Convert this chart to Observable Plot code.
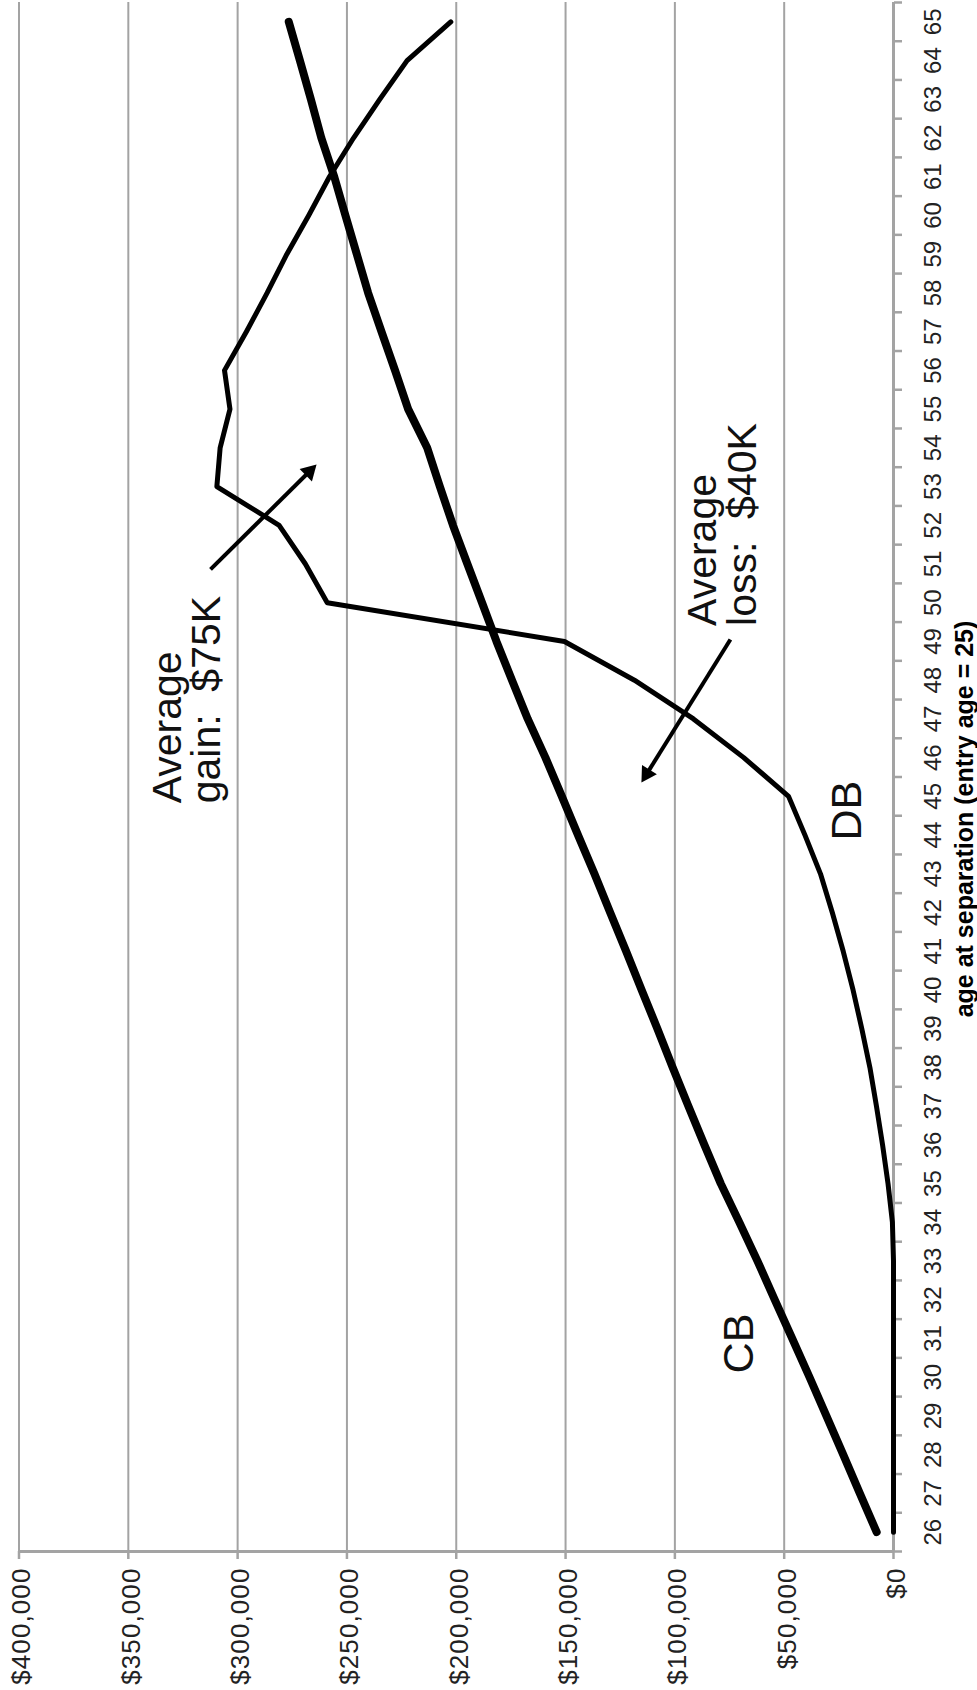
<!DOCTYPE html>
<html><head><meta charset="utf-8">
<script src="https://cdn.jsdelivr.net/npm/d3@7"></script>
<script src="https://cdn.jsdelivr.net/npm/@observablehq/plot@0.6"></script>
<style>html,body{margin:0;padding:0;background:#fff;} svg{display:block}</style>
</head><body><div id="chart"></div>
<script>
// ---- data ----
const ages = [26,27,28,29,30,31,32,33,34,35,36,37,38,39,40,41,42,43,44,45,
              46,47,48,49,50,51,52,53,54,55,56,57,58,59,60,61,62,63,64,65];
const cbValues = [7700,15400,23000,30700,38400,46300,54300,62200,70500,79000,
                  86500,93800,101000,108000,115200,122300,129600,136800,144300,151700,
                  159200,167300,174500,181600,188200,194900,201500,207500,213300,222000,
                  228000,234200,240300,245500,250700,255800,261700,266500,271500,276600];
const dbValues = [0,0,0,0,0,0,0,0,500,2500,
                  5000,7800,10800,14500,18500,23000,28000,33400,40500,48000,
                  68500,91500,118500,150500,259000,269000,281000,309500,308000,303500,
                  306000,296000,286500,277500,267500,258000,247000,235000,222500,202500];
const dollarTicks = [0,50000,100000,150000,200000,250000,300000,350000,400000];
const axisTitle = "age at separation (entry age = 25)";
const notes = [
  {text: "Average", x: 325700, y: 44.82},
  {text: "gain:\u00a0\u00a0$75K", x: 307900, y: 44.82},
  {text: "Average", x: 81000, y: 49.40},
  {text: "loss:\u00a0\u00a0$40K", x: 63000, y: 49.40}
];
const seriesLabels = [
  {text: "CB", x: 70400, y: 30.87},
  {text: "DB", x: 21000, y: 44.63}
];
const arrows = [
  {x1: 312400, y1: 50.86, x2: 263900, y2: 53.57},
  {x1: 74600, y1: 49.05, x2: 115300, y2: 45.36}
];

// ---- layout ----
const W = 977, H = 1690, mL = 18.5, mR = 84, mT = 2, mB = 139;
const gray = "#a3a3a3";
const sans = "'Liberation Sans', Arial, Helvetica, sans-serif";
const narrow = "'Liberation Sans Narrow', 'Arial Narrow', 'Liberation Sans', Arial, sans-serif";

const cb = ages.map((a, i) => ({age: a, value: cbValues[i]}));
const db = ages.map((a, i) => ({age: a, value: dbValues[i]}));
const ageBounds = ages.map(a => a - 0.5).concat([ages[ages.length - 1] + 0.5]);

// arrowhead geometry (computed in screen space with the same scales Plot uses)
const xs = d3.scaleLinear([0, 400000], [W - mR, mL]);
const ys = d3.scaleLinear([ageBounds[0], ageBounds[ageBounds.length - 1]], [H - mB, mT]);
const headR = 6.5;
const tipDist = 2 * Math.sqrt(Math.PI * headR * headR / (3 * Math.sqrt(3)));
const heads = arrows.map(a => {
  const p1 = [xs(a.x1), ys(a.y1)], p2 = [xs(a.x2), ys(a.y2)];
  const L = Math.hypot(p2[0] - p1[0], p2[1] - p1[1]);
  const ux = (p2[0] - p1[0]) / L, uy = (p2[1] - p1[1]) / L;
  return {
    x1: a.x1, y1: a.y1,
    bx: xs.invert(p2[0] - ux * tipDist * 1.2), by: ys.invert(p2[1] - uy * tipDist * 1.2),
    cx: xs.invert(p2[0] - ux * tipDist), cy: ys.invert(p2[1] - uy * tipDist),
    angle: Math.atan2(ux, -uy) * 180 / Math.PI
  };
});

const chart = Plot.plot({
  width: W, height: H,
  marginLeft: mL, marginRight: mR, marginTop: mT, marginBottom: mB,
  x: {domain: [0, 400000], reverse: true},
  y: {domain: [ageBounds[0], ageBounds[ageBounds.length - 1]]},
  style: {background: "#fff"},
  marks: [
    Plot.ruleX(dollarTicks.filter(d => d > 0), {stroke: gray, strokeWidth: 2}),
    Plot.axisX({anchor: "bottom", ticks: dollarTicks, tickSize: 8, tickFormat: () => "", stroke: gray, strokeWidth: 2.5, label: null}),
    Plot.axisY({anchor: "right", ticks: ageBounds, tickSize: 8, tickFormat: () => "", stroke: gray, strokeWidth: 2.5, label: null}),
    Plot.ruleY([ageBounds[0]], {stroke: gray, strokeWidth: 3}),
    Plot.ruleX([0], {stroke: gray, strokeWidth: 3}),
    Plot.text(dollarTicks, {x: d => d, y: () => ageBounds[0], text: d => d3.format("$,")(d),
      rotate: -90, textAnchor: "end", lineAnchor: "middle", dy: 16, dx: 3,
      fontSize: 26, fontFamily: sans, fill: "#222"}),
    Plot.text(ages, {x: () => 0, y: d => d, text: d => String(d),
      rotate: -90, textAnchor: "middle", lineAnchor: "middle", dx: 40,
      fontSize: 24, fontFamily: narrow, fill: "#222"}),
    Plot.text([axisTitle], {frameAnchor: "right", text: d => d, rotate: -90,
      textAnchor: "middle", lineAnchor: "middle", dx: 71, dy: 42,
      fontSize: 25, fontWeight: "bold", fontFamily: sans, fill: "#000"}),
    Plot.line(db, {x: "value", y: "age", stroke: "#000", strokeWidth: 5, strokeLinejoin: "round", strokeLinecap: "round"}),
    Plot.line(cb, {x: "value", y: "age", stroke: "#000", strokeWidth: 8, strokeLinejoin: "round", strokeLinecap: "round"}),
    Plot.text(notes, {x: "x", y: "y", text: "text", rotate: -90, textAnchor: "start", lineAnchor: "bottom",
      fontSize: 41, fontFamily: sans, fill: "#111"}),
    Plot.text(seriesLabels, {x: "x", y: "y", text: "text", rotate: -90, textAnchor: "middle", lineAnchor: "middle",
      fontSize: 43, fontFamily: sans, fill: "#111"}),
    Plot.link(heads, {x1: "x1", y1: "y1", x2: "bx", y2: "by", stroke: "#000", strokeWidth: 4}),
    Plot.dot(heads, {x: "cx", y: "cy", symbol: "triangle", r: headR, rotate: "angle", fill: "#000", stroke: "none"})
  ]
});

d3.select(chart).selectAll("text")
  .filter(function() { const t = this.textContent; return /^\$[0-9,]+$/.test(t); })
  .attr("letter-spacing", "1.1px");

document.getElementById("chart").appendChild(chart);
</script>
</body></html>
